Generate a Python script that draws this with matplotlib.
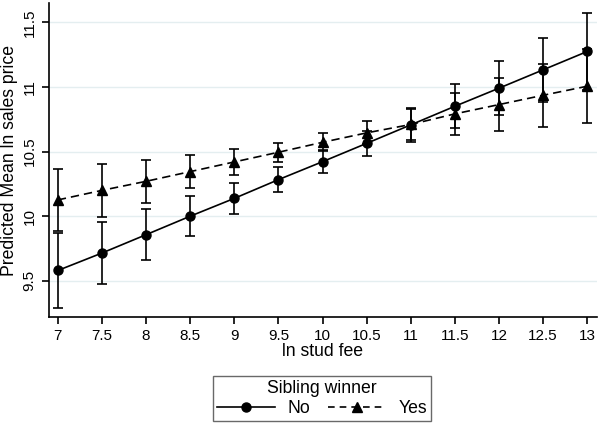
import matplotlib.pyplot as plt
from matplotlib.lines import Line2D

# data
stud_fee = [7, 7.5, 8, 8.5, 9, 9.5, 10, 10.5, 11, 11.5, 12, 12.5, 13]

no_mean = [9.58, 9.715, 9.857, 10.0, 10.138, 10.283, 10.422, 10.564, 10.707, 10.851, 10.991, 11.133, 11.275]
no_ci = [0.287, 0.24, 0.198, 0.157, 0.12, 0.097, 0.087, 0.099, 0.132, 0.169, 0.209, 0.25, 0.295]

yes_mean = [10.126, 10.20, 10.27, 10.345, 10.42, 10.495, 10.572, 10.645, 10.71, 10.792, 10.864, 10.936, 11.006]
yes_ci = [0.243, 0.204, 0.168, 0.129, 0.098, 0.075, 0.07, 0.09, 0.12, 0.163, 0.203, 0.243, 0.287]

xticks = [7, 7.5, 8, 8.5, 9, 9.5, 10, 10.5, 11, 11.5, 12, 12.5, 13]
xtick_labels = ["7", "7.5", "8", "8.5", "9", "9.5", "10", "10.5", "11", "11.5", "12", "12.5", "13"]
yticks = [9.5, 10, 10.5, 11, 11.5]
ytick_labels = ["9.5", "10", "10.5", "11", "11.5"]

plt.rcParams['font.family'] = ['Liberation Sans', 'DejaVu Sans']
plt.rcParams['font.size'] = 11

fig = plt.figure(figsize=(6, 4.25), dpi=100)
ax = fig.add_axes([49 / 600, 1 - 317 / 425, 548 / 600, 314 / 425])

# --- Yes: dashed line with triangles ---
ax.errorbar(stud_fee, yes_mean, yerr=yes_ci, fmt='none', ecolor='black',
            elinewidth=1.2, capsize=3.5, capthick=1.2, zorder=2)
ax.plot(stud_fee, yes_mean, color='black', linestyle=(0, (5, 3)), linewidth=1.2,
        marker='^', markersize=6.5, zorder=3)

# --- No: solid line with circles ---
ax.errorbar(stud_fee, no_mean, yerr=no_ci, fmt='none', ecolor='black',
            elinewidth=1.2, capsize=3.5, capthick=1.2, zorder=2)
ax.plot(stud_fee, no_mean, color='black', linestyle='-', linewidth=1.2,
        marker='o', markersize=6.5, zorder=3)

ax.set_xlim(6.9, 13.11)
ax.set_ylim(9.22, 11.65)
ax.set_xticks(xticks)
ax.set_xticklabels(xtick_labels)
ax.set_yticks(yticks)
ax.set_yticklabels(ytick_labels, rotation=90, va='center')
ax.grid(True, axis='y', color='#e4eef0', linewidth=1)
ax.set_axisbelow(True)
for s in ['top', 'right']:
    ax.spines[s].set_visible(False)
ax.spines['left'].set_linewidth(1.2)
ax.spines['bottom'].set_linewidth(1.2)
ax.tick_params(direction='out', length=5, width=1.2, pad=4)

ax.set_xlabel("ln stud fee", labelpad=0, fontsize=12.7)
ax.set_ylabel("Predicted Mean ln sales price", labelpad=3, fontsize=12.7)

handles = [
    Line2D([], [], color='black', linestyle='-', linewidth=1.2, marker='o', markersize=6.5),
    Line2D([], [], color='black', linestyle=(0, (4, 3)), linewidth=1.2, marker='^', markersize=6.5),
]
leg = fig.legend(handles, ["No", "Yes"], title="Sibling winner", ncol=2,
                 loc='lower center', bbox_to_anchor=(322 / 600, 0.0),
                 fontsize=12.7, title_fontsize=12.7,
                 frameon=True, fancybox=False, edgecolor='#444444',
                 handlelength=3.3, columnspacing=1.0, borderpad=0.25,
                 handletextpad=0.7, labelspacing=0.15, borderaxespad=0.2)
leg.get_frame().set_linewidth(1)

fig.savefig("out.png", dpi=100)
